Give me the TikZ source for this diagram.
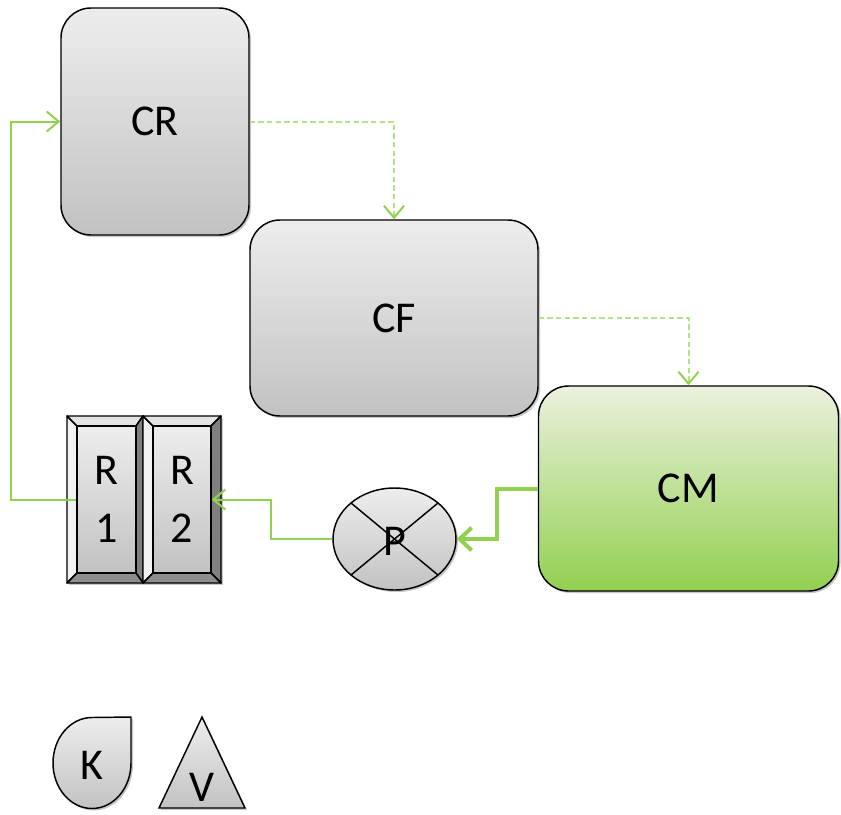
\documentclass[tikz,border=0pt]{standalone}
\usepackage{fontspec}
\setmainfont{Carlito}
\usetikzlibrary{arrows.meta,shapes.geometric,shadows}
\definecolor{lgreen}{HTML}{92D050}
\definecolor{dgreen}{HTML}{B4E08A}
\definecolor{gtop}{HTML}{EDEDED}
\definecolor{gbot}{HTML}{C2C2C2}
\definecolor{mtop}{HTML}{EBF1DE}
\definecolor{fleft}{HTML}{F2F2F2}
\definecolor{ftop}{HTML}{E4E4E4}
\definecolor{fright}{HTML}{7F7F7F}
\definecolor{fbot}{HTML}{8E8E8E}
\begin{document}
\begin{tikzpicture}[x=0.75pt,y=-0.75pt,
  shd/.style={drop shadow={shadow xshift=1.5pt,shadow yshift=-1.5pt,opacity=.22,fill=black}},
  lbl/.style={font=\fontsize{33}{43.5}\selectfont},
  rbox/.style={draw=black,line width=1.1pt,rounded corners=22.5pt,top color=gtop,bottom color=gbot,shd,lbl,inner sep=0pt},
  gbox/.style={rbox,top color=mtop,bottom color=lgreen},
  inner/.style={draw=black,line width=1.1pt,top color=gtop,bottom color=gbot,lbl,align=center,inner sep=0pt,minimum width=44.25pt,minimum height=110.25pt},
  face/.style={draw=black,line width=1.1pt,line join=round},
  thinflow/.style={draw=lgreen,line width=1.5pt,-{Straight Barb[length=9pt,width=15pt,line width=1.5pt]}},
  dashflow/.style={draw=dgreen,line width=1.5pt,dash pattern=on 4pt off 2.5pt,-{Straight Barb[length=9pt,width=15pt,line width=1.5pt,color=lgreen]}},
  thickflow/.style={draw=lgreen,line width=3pt,-{Straight Barb[length=9pt,width=17pt,line width=3pt]}}
]
\useasboundingbox (0,0) rectangle (841,814);

% rounded boxes
\node[rbox,minimum width=141pt,minimum height=170.25pt] (cr) at (155,121.5) {CR};
\node[rbox,minimum width=216pt,minimum height=147pt] (cf) at (394,318) {CF};
\node[gbox,minimum width=225pt,minimum height=153.75pt] (cm) at (688.5,488.5) {CM};

% bevel boxes R1, R2
\path[shd] (67,416) rectangle (221,583);
\foreach \ox/\ix/\jx/\qx in {67/77/136/143, 143/153/211/221}{
  \fill[white] (\ox,416) rectangle (\qx,583);
  \draw[face,fill=fleft] (\ox,416) -- (\ix,426) -- (\ix,573) -- (\ox,583) -- cycle;
  \draw[face,fill=ftop] (\ox,416) -- (\qx,416) -- (\jx,426) -- (\ix,426) -- cycle;
  \draw[face,fill=fright] (\qx,416) -- (\qx,583) -- (\jx,573) -- (\jx,426) -- cycle;
  \draw[face,fill=fbot] (\ox,583) -- (\ix,573) -- (\jx,573) -- (\qx,583) -- cycle;
}
\node[inner] (r1) at (106.5,499.5) {R\\1};
\node[inner,minimum width=43.5pt] (r2) at (182,499.5) {R\\2};

% pump P
\node[ellipse,draw=black,line width=1.1pt,top color=gtop,bottom color=gbot,shd,inner sep=0pt,
      minimum width=92.25pt,minimum height=76.5pt] (p) at (394.5,539) {};
\draw[line width=1.1pt] ([shift={(43.5,-36)}]p.center) -- ([shift={(-43.5,36)}]p.center);
\draw[line width=1.1pt] ([shift={(-43.5,-36)}]p.center) -- ([shift={(43.5,36)}]p.center);
\node[lbl,inner sep=0pt] (ptext) at (394.5,541) {P};

% K shape
\draw[line width=1.1pt,top color=gtop,bottom color=gbot,shd]
  (131,717) -- (131,763) arc[start angle=0,end angle=270,x radius=39,y radius=45.5] -- cycle;
\node[lbl,inner sep=0pt] (k) at (92,765) {K};

% V shape
\draw[line width=1.1pt,top color=gtop,bottom color=gbot,shd,line join=miter]
  (202,717) -- (245,808) -- (159,808) -- cycle;
\node[lbl,inner sep=0pt] (v) at (202,787) {V};

% connectors
\draw[dashflow] (cr.east) -| (cf.north);
\draw[dashflow] (cf.east) -| (cm.north);
\draw[thickflow] (cm.west) -- ++(-41,0) |- (p.east);
\draw[thinflow] (p.west) -- ++(-61,0) |- (r2.east);
\draw[thinflow] (r1.west) -- ++(-65,0) |- (cr.west);
\end{tikzpicture}
\end{document}
